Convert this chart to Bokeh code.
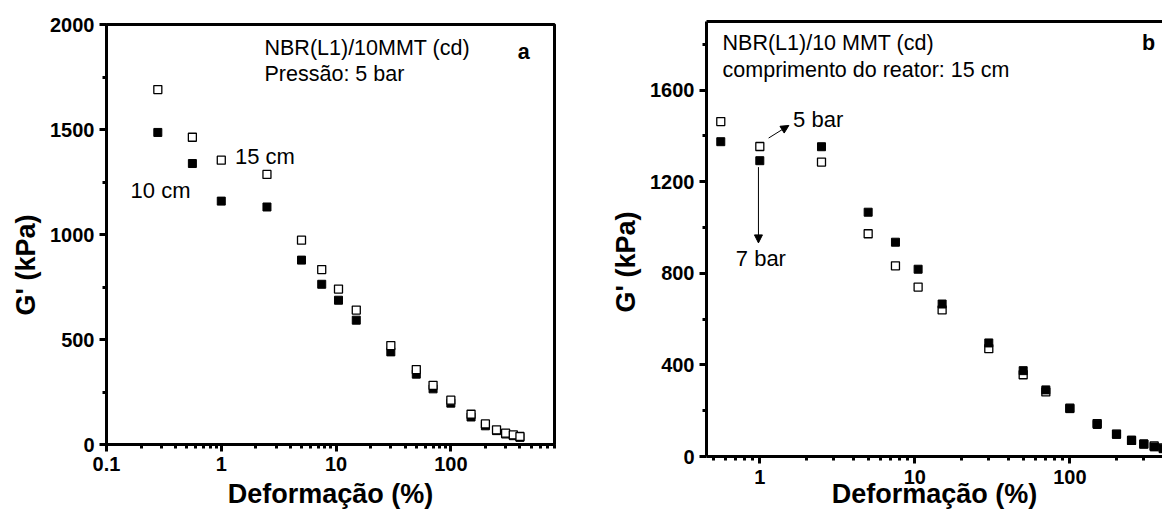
from bokeh.plotting import figure
from bokeh.layouts import row, column
from bokeh.models import (FixedTicker, Label, Arrow, NormalHead, LogAxis,
                          CustomJSTickFormatter, Title)
from bokeh.embed import file_html
from bokeh.resources import INLINE

FONT = "Liberation Sans"

# ---- panel a: effect of reactor length (5 bar) ----
strain_a = [0.28, 0.56, 1.0, 2.5, 5, 7.5, 10.5, 15, 30, 50, 70, 100, 150, 200, 250, 300, 350, 400]
g_15cm = [1690, 1463, 1354, 1286, 973, 833, 740, 640, 471, 357, 282, 211, 144, 98, 70, 54, 46, 38]
g_10cm = [1486, 1338, 1159, 1131, 878, 763, 687, 592, 441, 335, 265, 197, 131, 89, 66, 50, 42, 34]

# ---- panel b: effect of pressure (reactor length 15 cm) ----
strain_b = [0.56, 1.0, 2.5, 5, 7.5, 10.5, 15, 30, 50, 70, 100, 150, 200, 250, 300, 350, 400]
g_5bar = [1463, 1354, 1286, 973, 833, 740, 640, 471, 357, 282, 211, 144, 98, 70, 54, 46, 38]
g_7bar = [1375, 1292, 1353, 1067, 936, 818, 666, 496, 375, 291, 209, 140, 97, 71, 55, 42, 34]

yticks_a = [0, 500, 1000, 1500, 2000]
yticks_b = [0, 400, 800, 1200, 1600]
xticks_a = [0.1, 1, 10, 100]
xticks_b = [1, 10, 100]


def log_minors():
    return [m * 10.0 ** e for e in (-2, -1, 0, 1, 2) for m in range(2, 10)]


def style_axis(ax):
    ax.axis_line_width = 3
    ax.axis_line_color = "black"
    ax.major_tick_line_width = 3
    ax.minor_tick_line_width = 3
    ax.major_tick_line_color = "black"
    ax.minor_tick_line_color = "black"
    ax.major_tick_in = 0
    ax.major_tick_out = 7
    ax.minor_tick_in = 0
    ax.minor_tick_out = 4
    ax.major_label_text_font = FONT
    ax.major_label_text_font_style = "bold"
    ax.major_label_text_font_size = "20px"
    ax.major_label_text_color = "black"
    ax.major_label_standoff = 5
    ax.axis_label_text_font = FONT
    ax.axis_label_text_font_size = "27px"
    ax.axis_label_text_font_style = "bold"
    ax.axis_label_text_color = "black"


def base_fig(x_range, y_range, width, **borders):
    p = figure(x_axis_type="log", x_range=x_range, y_range=y_range,
               width=width, height=511, output_backend="svg",
               toolbar_location=None, background_fill_color="white",
               border_fill_color="white", **borders)
    p.xgrid.visible = False
    p.ygrid.visible = False
    for ax in (p.xaxis[0], p.yaxis[0]):
        style_axis(ax)
    p.xaxis[0].formatter = CustomJSTickFormatter(code="return String(tick);")
    return p


def text(p, x, y, s, size="21.5px", bold=False, **kw):
    p.add_layout(Label(x=x, y=y, text=s, text_font=FONT, text_font_size=size,
                       text_font_style="bold" if bold else "normal",
                       text_color="black", text_baseline="middle",
                       text_align=kw.pop("align", "left"), **kw))


def y_title(p, ytitle, y_offset, y_standoff):
    p.add_layout(Title(text=ytitle, align="left", offset=y_offset,
                       text_font=FONT, text_font_size="27px",
                       text_font_style="bold", text_color="black",
                       standoff=y_standoff), "left")


# ================= panel a =================
pa = base_fig((0.1, 800), (0, 2000), 580,
              min_border_left=106, min_border_right=26,
              min_border_top=24, min_border_bottom=67)
pa.outline_line_color = "black"
pa.outline_line_width = 3
pa.outline_line_alpha = 1
pa.xaxis[0].ticker = FixedTicker(ticks=xticks_a, minor_ticks=log_minors())
pa.yaxis[0].ticker = FixedTicker(ticks=yticks_a, minor_ticks=[250, 750, 1250, 1750])
pa.xaxis[0].axis_label = "Deformação (%)"
pa.xaxis[0].axis_label_standoff = 5

pa.scatter(strain_a, g_10cm, marker="square", size=8,
           fill_color="black", line_color="black", line_width=1)
pa.scatter(strain_a, g_15cm, marker="square", size=8,
           fill_color="white", line_color="black", line_width=1.3)

text(pa, 2.38, 1886, "NBR(L1)/10MMT (cd)")
text(pa, 2.38, 1763, "Pressão: 5 bar")
text(pa, 432, 1870, "a", bold=True, align="center")
text(pa, 1.315, 1370, "15 cm", size="22px")
text(pa, 0.162, 1211, "10 cm", size="22px")

y_title(pa, "G' (kPa)", 129, 14)

# ================= panel b =================
pb = base_fig((0.453, 396), (0, 1900), 582,
              min_border_left=126, min_border_right=0,
              min_border_top=21, min_border_bottom=54)
pb.outline_line_color = None
pb.xaxis[0].ticker = FixedTicker(ticks=xticks_b, minor_ticks=log_minors())
pb.xaxis[0].major_label_standoff = 6
pb.xaxis[0].axis_label = "Deformação (%)"
pb.xaxis[0].axis_label_standoff = -8
pb.yaxis[0].ticker = FixedTicker(ticks=yticks_b, minor_ticks=[200, 600, 1000, 1400, 1800])

# top frame line only (the right side of this panel runs off the page)
top = LogAxis(ticker=FixedTicker(ticks=[]), axis_line_width=3,
              axis_line_color="black", major_tick_line_color=None,
              minor_tick_line_color=None, major_label_text_font_size="0px",
              major_label_standoff=0)
pb.add_layout(top, "above")

pb.scatter(strain_b, g_5bar, marker="square", size=8,
           fill_color="white", line_color="black", line_width=1.3)
pb.scatter(strain_b, g_7bar, marker="square", size=8,
           fill_color="black", line_color="black", line_width=1)

text(pb, 0.575, 1806, "NBR(L1)/10 MMT (cd)")
text(pb, 0.575, 1688, "comprimento do reator: 15 cm")
text(pb, 322, 1805, "b", bold=True, align="center")
text(pb, 1.64, 1473, "5 bar", size="22px")
text(pb, 0.70, 865, "7 bar", size="22px")

pb.add_layout(Arrow(x_start=1.14, y_start=1391, x_end=1.54, y_end=1446,
                    line_width=1, line_color="black",
                    end=NormalHead(size=8, fill_color="black", line_color="black")))
pb.add_layout(Arrow(x_start=0.98, y_start=1264, x_end=0.98, y_end=933,
                    line_width=1, line_color="black",
                    end=NormalHead(size=8, fill_color="black", line_color="black")))

y_title(pb, "G' (kPa)", 144, 14)

# each panel in its own column so the two frames keep their own borders
layout = row(column(pa), column(pb))
open("out.html", "w").write(file_html(layout, INLINE))
